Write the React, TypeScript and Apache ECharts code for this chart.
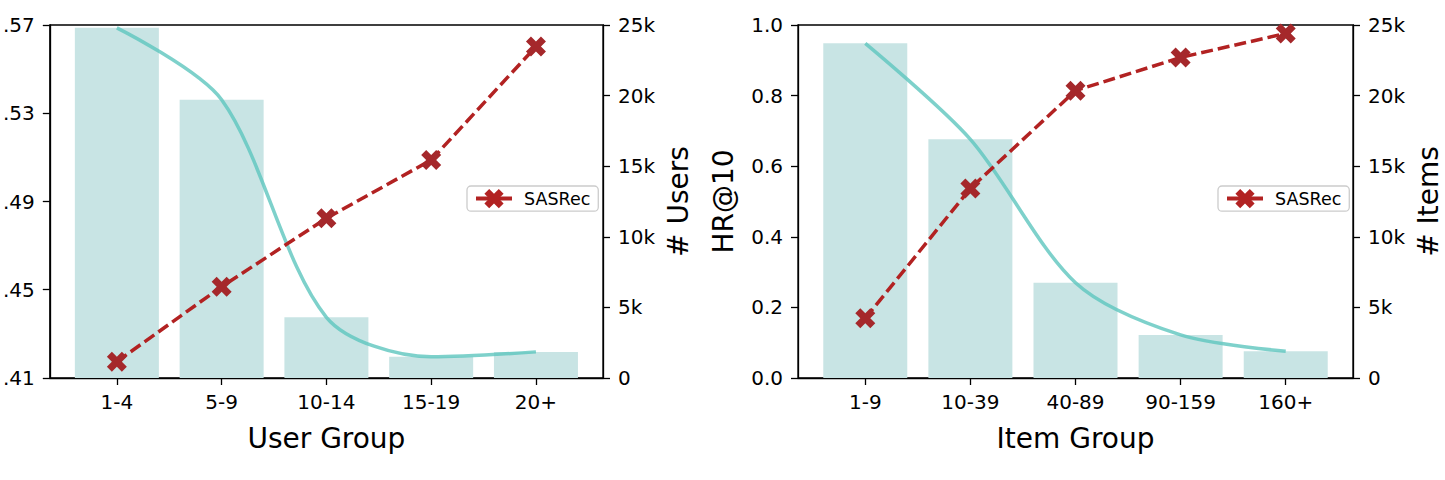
import React, { useEffect, useRef } from "react";
import * as echarts from "echarts";

const userGroups = ["1-4", "5-9", "10-14", "15-19", "20+"];
const userCounts = [24800, 19700, 4300, 1500, 1850];
const userHR = [0.4174, 0.4514, 0.4824, 0.5088, 0.5602];

const itemGroups = ["1-9", "10-39", "40-89", "90-159", "160+"];
const itemCounts = [23700, 16900, 6750, 3050, 1900];
const itemHR = [0.169, 0.537, 0.814, 0.908, 0.976];

const seriesName = "SASRec";
const tickPositions = [0, 1, 2, 3, 4];

const FONT = "DejaVu Sans";
const BAR_COLOR = "#c8e4e4";
const TEAL = "#5ec5be";
const RED = "#b22222";
const MARKER = "#a5282b";
const XSYM =
  "path://M0,2.5 L2.5,0 L5,2.5 L7.5,0 L10,2.5 L7.5,5 L10,7.5 L7.5,10 L5,7.5 L2.5,10 L0,7.5 L2.5,5 Z";

const kFmt = (v: number) => (v === 0 ? "0" : `${Math.round(v / 1000)}k`);

const axisLine = { show: true, onZero: false, lineStyle: { color: "#000", width: 1.3 } };
const axisTick = { show: true, length: 7, lineStyle: { color: "#000", width: 1.3 } };

function xAxisFor(gridIndex: number, cats: string[], name: string) {
  return {
    type: "value",
    gridIndex,
    min: -0.64,
    max: 4.64,
    name,
    nameLocation: "middle",
    nameGap: 46,
    nameTextStyle: { fontFamily: FONT, fontSize: 28, color: "#000" },
    axisLine,
    axisTick: { ...axisTick, customValues: tickPositions },
    axisLabel: {
      customValues: tickPositions,
      formatter: (v: number) => cats[Math.round(v)] ?? "",
      fontFamily: FONT,
      fontSize: 20,
      color: "#000",
      margin: 14,
    },
    splitLine: { show: false },
  };
}

function leftY(gridIndex: number, min: number, max: number, interval: number, fmt: (v: number) => string, name: string) {
  return {
    type: "value",
    gridIndex,
    position: "left",
    min,
    max,
    interval,
    name,
    nameLocation: "middle",
    nameGap: 61,
    nameRotate: 90,
    nameTextStyle: { fontFamily: FONT, fontSize: 28, color: "#000" },
    axisLine,
    axisTick,
    axisLabel: { formatter: fmt, fontFamily: FONT, fontSize: 20, color: "#000", margin: 15 },
    splitLine: { show: false },
  };
}

function rightY(gridIndex: number, name: string) {
  return {
    type: "value",
    gridIndex,
    position: "right",
    min: 0,
    max: 25000,
    interval: 5000,
    name,
    nameLocation: "middle",
    nameGap: 61,
    nameRotate: 90,
    nameTextStyle: { fontFamily: FONT, fontSize: 28, color: "#000" },
    axisLine,
    axisTick,
    axisLabel: { formatter: kFmt, fontFamily: FONT, fontSize: 20, color: "#000", margin: 15 },
    splitLine: { show: false },
  };
}

function seriesFor(xi: number, yl: number, yr: number, counts: number[], hr: number[]) {
  return [
    {
      type: "bar",
      xAxisIndex: xi,
      yAxisIndex: yr,
      data: counts.map((v, i) => [i, v]),
      barWidth: 84,
      itemStyle: { color: BAR_COLOR },
      z: 2,
      silent: true,
    },
    {
      type: "line",
      xAxisIndex: xi,
      yAxisIndex: yr,
      data: counts.map((v, i) => [i, v]),
      smooth: 0.3,
      showSymbol: false,
      symbol: "none",
      lineStyle: { color: TEAL, width: 3.5, opacity: 0.8 },
      z: 3,
      silent: true,
    },
    {
      type: "line",
      name: seriesName,
      xAxisIndex: xi,
      yAxisIndex: yl,
      data: hr.map((v, i) => [i, v]),
      symbol: XSYM,
      symbolSize: 20,
      itemStyle: { color: MARKER },
      lineStyle: { color: RED, width: 3.5, type: [12, 5] },
      z: 4,
    },
  ];
}

function legendFor(left: number) {
  return {
    left,
    top: 186,
    orient: "vertical",
    data: [seriesName],
    itemWidth: 36,
    itemHeight: 24,
    padding: [3, 8, 3, 7],
    backgroundColor: "#fff",
    borderColor: "#cccccc",
    borderWidth: 1.3,
    borderRadius: 4,
    lineStyle: { type: "solid", width: 4, color: RED },
    itemStyle: { color: RED },
    textStyle: { fontFamily: FONT, fontSize: 17.5, color: "#000", padding: [0, 0, 0, 7] },
  };
}

export default function App() {
  const ref = useRef<HTMLDivElement>(null);
  useEffect(() => {
    if (!ref.current) return;
    const chart = echarts.init(ref.current, undefined, { renderer: "svg" });
    const gridBase = { top: 25, height: 353, show: true, borderColor: "#000", borderWidth: 1.3, backgroundColor: "transparent", containLabel: false };
    chart.setOption({
      animation: false,
      textStyle: { fontFamily: FONT },
      grid: [
        { ...gridBase, left: 47, width: 556 },
        { ...gridBase, left: 798, width: 555 },
      ],
      legend: [legendFor(467), legendFor(1218)],
      xAxis: [xAxisFor(0, userGroups, "User Group"), xAxisFor(1, itemGroups, "Item Group")],
      yAxis: [
        leftY(0, 0.41, 0.57, 0.04, (v: number) => v.toFixed(2).replace(/^0/, ""), ""),
        rightY(0, "# Users"),
        leftY(1, 0, 1, 0.2, (v: number) => v.toFixed(1), "HR@10"),
        rightY(1, "# Items"),
      ],
      series: [
        ...seriesFor(0, 0, 1, userCounts, userHR),
        ...seriesFor(1, 2, 3, itemCounts, itemHR),
      ],
    });
    return () => chart.dispose();
  }, []);
  return (
    <div
      ref={ref}
      style={{ position: "absolute", left: 0, top: 0, width: 1445, height: 480, background: "#fff" }}
    />
  );
}
